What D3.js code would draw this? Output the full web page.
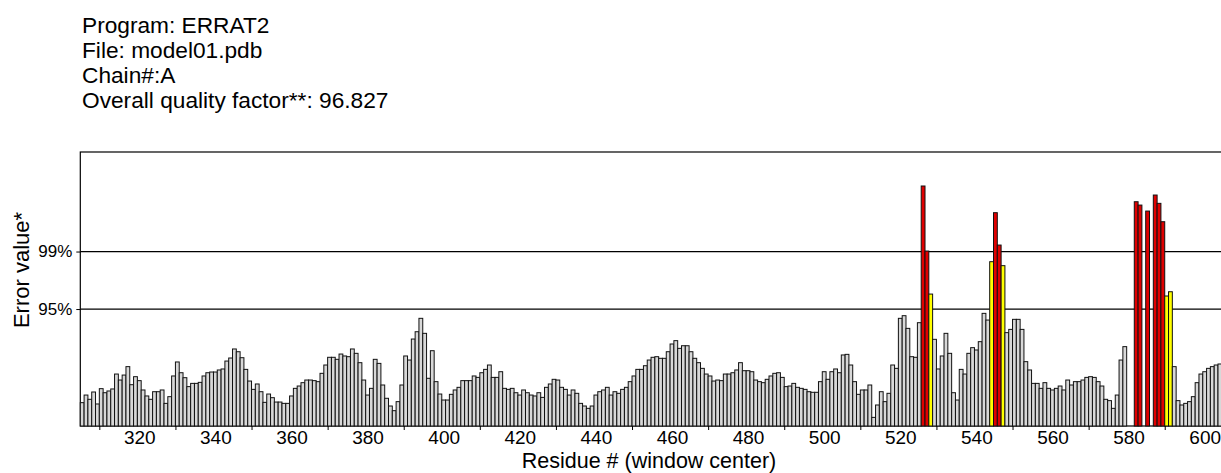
<!DOCTYPE html>
<meta charset="utf-8">
<head>
  <title>ERRAT2 plot</title>
  <script src="https://cdn.jsdelivr.net/npm/d3@7"></script>
  <style>
    body { margin: 0; background: #fff; }
    svg { display: block; font-family: "Liberation Sans", Arial, sans-serif; }
    .bar { stroke: #111; stroke-width: 1px; }
    .axis path { display: none; }
    .axis line { stroke: #000; }
    .axis text { fill: #000; }
  </style>
</head>
<body>
<svg width="1221" height="473"></svg>
<script>
const width = 1221, height = 473;

// header lines
const header = ["Program: ERRAT2", "File: model01.pdb", "Chain#:A", "Overall quality factor**: 96.827"];

// residue numbers 305..604, error values (null = no bar)
const firstResidue = 305;
const errorValues = [
  2.30, 3.05, 2.63, 3.35, 2.17, 3.68, 3.28, 3.45, 3.65, 5.12,
  4.53, 5.02, 5.85, 4.07, 4.86, 4.47, 3.55, 2.96, 2.63, 3.38,
  3.38, 3.55, 2.23, 2.89, 4.93, 6.31, 5.25, 4.76, 3.88, 4.20,
  4.20, 4.30, 4.93, 5.25, 5.32, 5.32, 5.52, 5.62, 6.40, 6.70,
  7.59, 7.32, 6.73, 5.58, 4.43, 3.61, 4.14, 3.38, 2.33, 3.15,
  2.79, 2.36, 2.36, 2.23, 2.23,
  2.96, 3.71, 3.94, 4.27, 4.53, 4.53, 4.47, 4.37, 5.19, 6.01,
  6.77, 6.77, 6.57, 7.09, 6.90, 6.83, 7.59, 7.16, 6.24, 4.53,
  3.05, 3.71, 6.57, 6.17, 4.04, 2.73, 1.97, 1.51, 2.40, 4.04,
  6.90, 6.50, 8.57, 9.29, 10.61, 9.13, 4.70, 7.42, 4.37, 3.15,
  2.56, 2.56, 3.12, 3.55, 3.81,
  4.47, 4.47, 4.47, 4.93, 4.79, 5.25, 5.58, 6.01, 4.79, 4.79,
  5.35, 3.71, 3.61, 3.71, 3.28, 3.05, 3.55, 3.28, 3.05, 2.96,
  3.28, 2.82, 3.81, 4.14, 4.60, 4.53, 3.81, 3.61, 3.05, 3.55,
  3.22, 2.23, 1.97, 1.74, 1.97, 3.05, 3.38, 3.55, 3.81, 3.05,
  3.38, 3.22, 3.61, 3.81, 4.37, 4.93, 5.58, 5.58, 5.94, 6.50,
  6.77, 6.83, 6.67, 6.67, 7.32, 8.08, 8.41, 7.65, 7.91, 7.91,
  7.32, 6.67, 6.24, 5.68, 5.12, 4.93, 4.43, 4.53, 4.47, 5.12,
  5.12, 5.25, 5.52, 6.24,
  5.45, 5.45, 5.35, 4.53, 4.37, 4.27, 4.60, 4.93, 5.19, 5.25,
  4.79, 3.88, 3.94, 4.20, 3.81, 3.71, 3.61, 3.38, 3.32, 3.32,
  4.37, 5.35, 4.60, 5.35, 5.62, 5.25, 7.00, 7.06, 6.01, 4.37,
  3.12, 3.55, 3.55, 4.04, 0.85, 2.07, 3.38, 2.40, 3.22, 6.01,
  5.68, 10.61, 10.87, 9.62, 6.83, 6.77, 10.18, 23.65, 17.24, 13.00,
  8.54, 5.62, 6.90, 9.13, 7.16, 3.28, 2.56, 5.58, 5.12, 7.16,
  7.72, 7.49, 8.31, 11.10, 10.44, 16.19, 21.02, 17.83, 15.80, 9.20,
  9.52, 10.51, 10.51,
  9.52, 6.34, 5.52, 4.20, 4.20, 3.71, 4.27, 3.71, 3.55, 3.71,
  3.94, 3.55, 4.53, 4.04, 4.37, 4.37, 4.53, 4.79, 4.86, 4.79,
  4.37, 3.94, 2.63, 2.50, 1.74, 3.05, 6.50, 7.82, null, null,
  22.10, 21.77, null, 21.18, null, 22.76, 21.94, 20.13, 12.81, 13.23,
  5.85, 2.50, 2.07, 2.23, 2.40, 2.89, 4.27, 5.12, 5.35, 5.68,
  5.85, 6.01, 6.11
];

// rejection limits
const limits = [
  { label: "95%", value: 11.526 },
  { label: "99%", value: 17.191 }
];

const xLabels = d3.range(320, 601, 20);
const xTicks = d3.range(309.5, 590, 20);

const bars = errorValues.map((v, i) => ({ res: firstResidue + i, v: v }))
  .filter(d => d.v !== null);

const svg = d3.select("svg");

const x = d3.scaleLinear().domain([304.5, 604.5]).range([80.3, 80.3 + 300 * 3.805]);
const y = d3.scaleLinear().domain([0, 27]).range([426, 152]);

// header
svg.append("g").selectAll("text")
  .data(header)
  .enter().append("text")
    .attr("x", 82)
    .attr("y", (d, i) => 32.5 + i * 25.3)
    .attr("font-size", "22.7px")
    .text(d => d);

// frame
svg.append("rect")
  .attr("x", x(304.5)).attr("y", y(27))
  .attr("width", 1300).attr("height", y(0) - y(27))
  .attr("fill", "none").attr("stroke", "#000").attr("stroke-width", 1.2);

// limit lines
svg.append("g").selectAll("line")
  .data(limits)
  .enter().append("line")
    .attr("x1", x(304.5)).attr("x2", width)
    .attr("y1", d => y(d.value)).attr("y2", d => y(d.value))
    .attr("stroke", "#000").attr("stroke-width", 1.2);

// bars
svg.append("g").selectAll("rect")
  .data(bars)
  .enter().append("rect")
    .attr("class", "bar")
    .attr("x", d => x(d.res - 0.5))
    .attr("width", d => x(d.res + 0.5) - x(d.res - 0.5))
    .attr("y", d => y(d.v))
    .attr("height", d => y(0) - y(d.v))
    .attr("fill", d => d.v > limits[1].value ? "#e00000" : d.v > limits[0].value ? "#ffff00" : "#d8d8d8");

// y axis (limit labels)
svg.append("g")
  .attr("class", "axis")
  .attr("transform", `translate(${x(304.5)},0)`)
  .call(d3.axisLeft(y).tickValues(limits.map(d => d.value))
    .tickFormat(v => limits.find(l => l.value === v).label)
    .tickSize(4).tickPadding(4))
  .selectAll("text").attr("font-size", "17px");

// x axis labels
svg.append("g")
  .attr("class", "axis")
  .attr("transform", `translate(0,${y(0)})`)
  .call(d3.axisBottom(x).tickValues(xLabels).tickFormat(d3.format("d")).tickSize(0).tickPadding(4.5))
  .selectAll("text").attr("font-size", "19px");

// x axis tick marks
svg.append("g")
  .attr("class", "axis")
  .attr("transform", `translate(0,${y(0)})`)
  .call(d3.axisBottom(x).tickValues(xTicks).tickFormat("").tickSize(4));

// axis titles
svg.append("text")
  .attr("x", 649).attr("y", 468.3)
  .attr("text-anchor", "middle")
  .attr("font-size", "21.5px")
  .text("Residue # (window center)");

svg.append("text")
  .attr("transform", "translate(29,270) rotate(-90)")
  .attr("text-anchor", "middle")
  .attr("font-size", "22px")
  .text("Error value*");
</script>
</body>
